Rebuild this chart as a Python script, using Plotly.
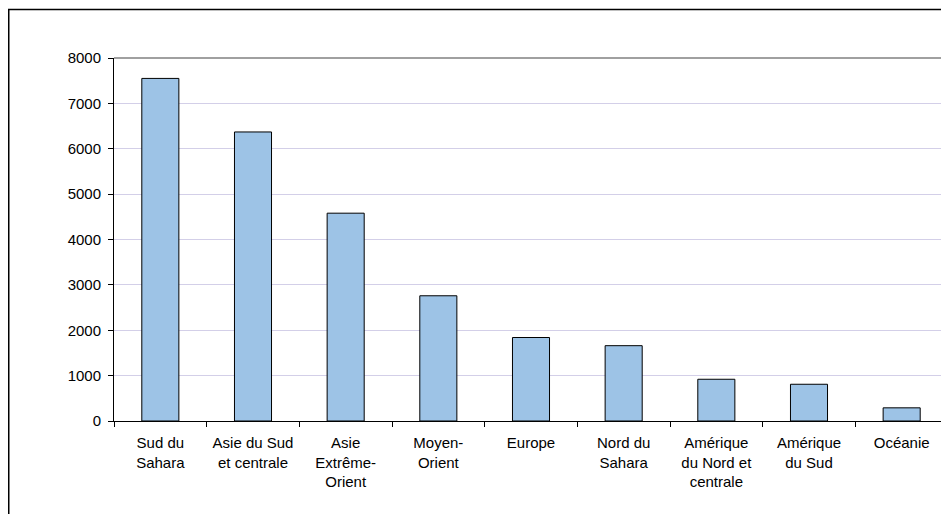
import plotly.graph_objects as go

categories = ["Sud du<br>Sahara", "Asie du Sud<br>et centrale", "Asie<br>Extrême-<br>Orient",
              "Moyen-<br>Orient", "Europe", "Nord du<br>Sahara", "Amérique<br>du Nord et<br>centrale",
              "Amérique<br>du Sud", "Océanie"]
values = [7550, 6370, 4580, 2760, 1840, 1660, 920, 810, 290]

# page body has an 8px margin; size the figure to fill the 949x514 window from (8,8)
OFF = 8
W, H = 949 - OFF, 514 - OFF
L, T = 114 - OFF, 58 - OFF
R = W - (948 - OFF)
B = H - (421 - OFF)
pw = W - L - R
ph = H - T - B

fig = go.Figure(go.Bar(
    x=categories, y=values, width=0.4,
    marker=dict(color="#9DC3E6", line=dict(color="#000000", width=1)),
))

font = dict(family="Liberation Sans, Arial, sans-serif", size=15, color="#000000")

fig.update_layout(
    width=W, height=H,
    margin=dict(l=L, r=R, t=T, b=B),
    paper_bgcolor="white", plot_bgcolor="white",
    font=font, showlegend=False,
    xaxis=dict(type="category", tickson="boundaries", ticks="outside", ticklen=5,
               tickcolor="#000000", showline=True, linecolor="#000000", linewidth=1,
               showgrid=False, tickfont=font, ticklabelstandoff=8),
    yaxis=dict(range=[0, 8000], dtick=1000, ticks="outside", ticklen=5,
               tickcolor="#000000", showline=True, linecolor="#000000", linewidth=1,
               showgrid=True, gridcolor="#D3CFE8", gridwidth=1, zeroline=False,
               tickfont=font, ticklabelstandoff=4),
)

# plot area border (top, right) in gray
fig.add_shape(type="line", xref="paper", yref="paper", x0=0, x1=1, y0=1, y1=1,
              line=dict(color="#A0A0A0", width=2))
fig.add_shape(type="line", xref="paper", yref="paper", x0=1, x1=1, y0=0, y1=1,
              line=dict(color="#A0A0A0", width=1.5))

# outer chart frame (left and top)
xl = (0.75 - L) / pw
yt = (H - B - 1.5) / ph
fig.add_shape(type="path", xref="paper", yref="paper",
              path=f"M {xl} -1 L {xl} {yt} L 2 {yt}",
              line=dict(color="#000000", width=1.5))

fig.write_html("out.html")
